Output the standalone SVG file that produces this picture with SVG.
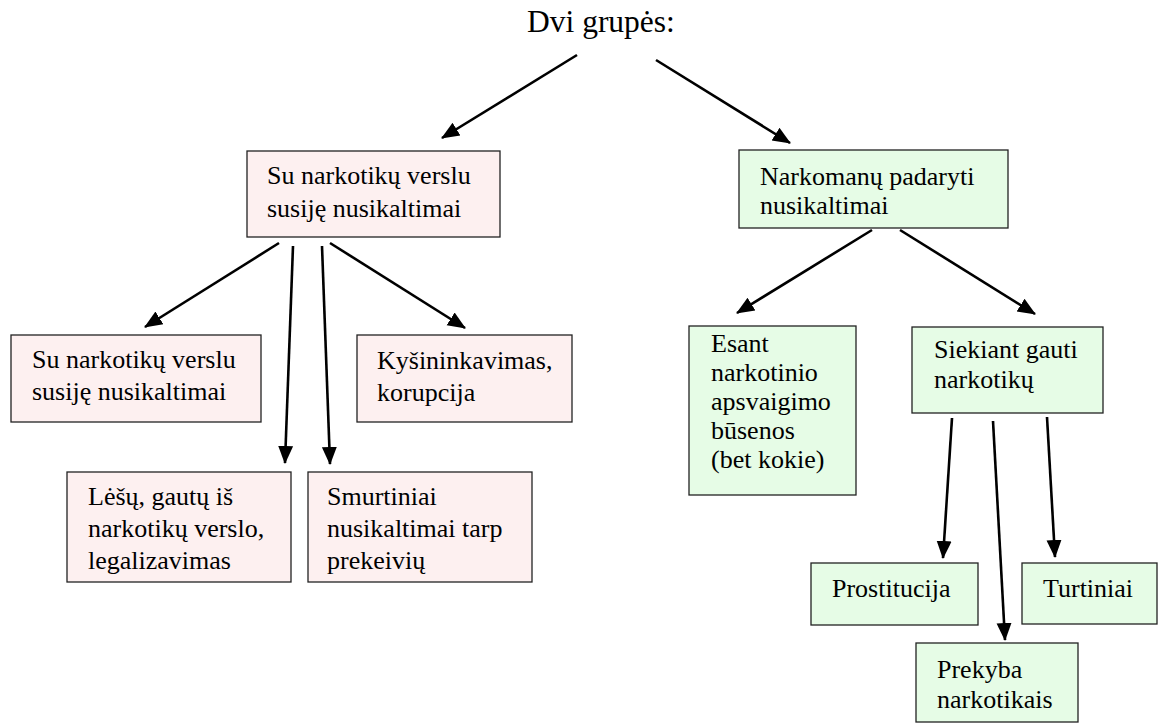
<svg xmlns="http://www.w3.org/2000/svg" width="1158" height="727" viewBox="0 0 1158 727">
<style>
text{font-family:"Liberation Serif","Times New Roman",serif;font-size:26px;fill:#000}
.title{font-size:31.5px}
.pink{fill:#fdf0f0;stroke:#222;stroke-width:1.3}
.green{fill:#e6fce6;stroke:#222;stroke-width:1.3}
.conn line{stroke:#000;stroke-width:2.6;marker-end:url(#ah)}
</style>
<defs>
<marker id="ah" markerUnits="userSpaceOnUse" markerWidth="18" markerHeight="18" viewBox="0 0 18 18" refX="17" refY="9" orient="auto">
<path d="M0,1.5 L18,9 L0,16.5 Z" fill="#000"/>
</marker>
</defs>
<rect width="1158" height="727" fill="#fff"/>
<text class="title" x="527" y="32">Dvi grupės:</text>

<g id="nodeA"><rect class="pink" x="247" y="151" width="253" height="86"/>
<text x="267" y="184">Su narkotikų verslu</text><text x="267" y="217">susiję nusikaltimai</text></g>
<g id="nodeB"><rect class="pink" x="11" y="335" width="250" height="87"/>
<text x="32" y="368">Su narkotikų verslu</text><text x="32" y="400">susiję nusikaltimai</text></g>
<g id="nodeC"><rect class="pink" x="357" y="335" width="215" height="87"/>
<text x="377" y="369">Kyšininkavimas,</text><text x="377" y="401">korupcija</text></g>
<g id="nodeD"><rect class="pink" x="67" y="472" width="224" height="110"/>
<text x="88" y="505">Lėšų, gautų iš</text><text x="88" y="537">narkotikų verslo,</text><text x="88" y="569">legalizavimas</text></g>
<g id="nodeE"><rect class="pink" x="308" y="472" width="224" height="110"/>
<text x="327" y="505">Smurtiniai</text><text x="327" y="537">nusikaltimai tarp</text><text x="327" y="569">prekeivių</text></g>

<g id="nodeF"><rect class="green" x="739" y="150" width="269" height="78"/>
<text x="760" y="185">Narkomanų padaryti</text><text x="760" y="214">nusikaltimai</text></g>
<g id="nodeG"><rect class="green" x="689" y="326" width="167" height="169"/>
<text x="711" y="352">Esant</text><text x="711" y="381">narkotinio</text><text x="711" y="410">apsvaigimo</text><text x="711" y="439">būsenos</text><text x="711" y="468">(bet kokie)</text></g>
<g id="nodeH"><rect class="green" x="912" y="327" width="191" height="86"/>
<text x="934" y="358">Siekiant gauti</text><text x="934" y="388">narkotikų</text></g>
<g id="nodeI"><rect class="green" x="811" y="563" width="167" height="62"/>
<text x="832" y="597">Prostitucija</text></g>
<g id="nodeJ"><rect class="green" x="1022" y="563" width="135" height="61"/>
<text x="1043" y="597">Turtiniai</text></g>
<g id="nodeK"><rect class="green" x="916" y="643" width="162" height="79"/>
<text x="937" y="678">Prekyba</text><text x="937" y="708">narkotikais</text></g>

<g class="conn" id="connectors">
<line x1="577" y1="55" x2="442" y2="138"/>
<line x1="656" y1="60" x2="790" y2="143"/>
<line x1="279" y1="243" x2="145" y2="327"/>
<line x1="330" y1="243" x2="465" y2="328"/>
<line x1="293" y1="246" x2="285" y2="463"/>
<line x1="322" y1="246" x2="330" y2="464"/>
<line x1="872" y1="230" x2="737" y2="313"/>
<line x1="900" y1="230" x2="1035" y2="314"/>
<line x1="952" y1="418" x2="943" y2="558"/>
<line x1="993" y1="421" x2="1005" y2="640"/>
<line x1="1047" y1="417" x2="1055" y2="557"/>
</g>
</svg>
